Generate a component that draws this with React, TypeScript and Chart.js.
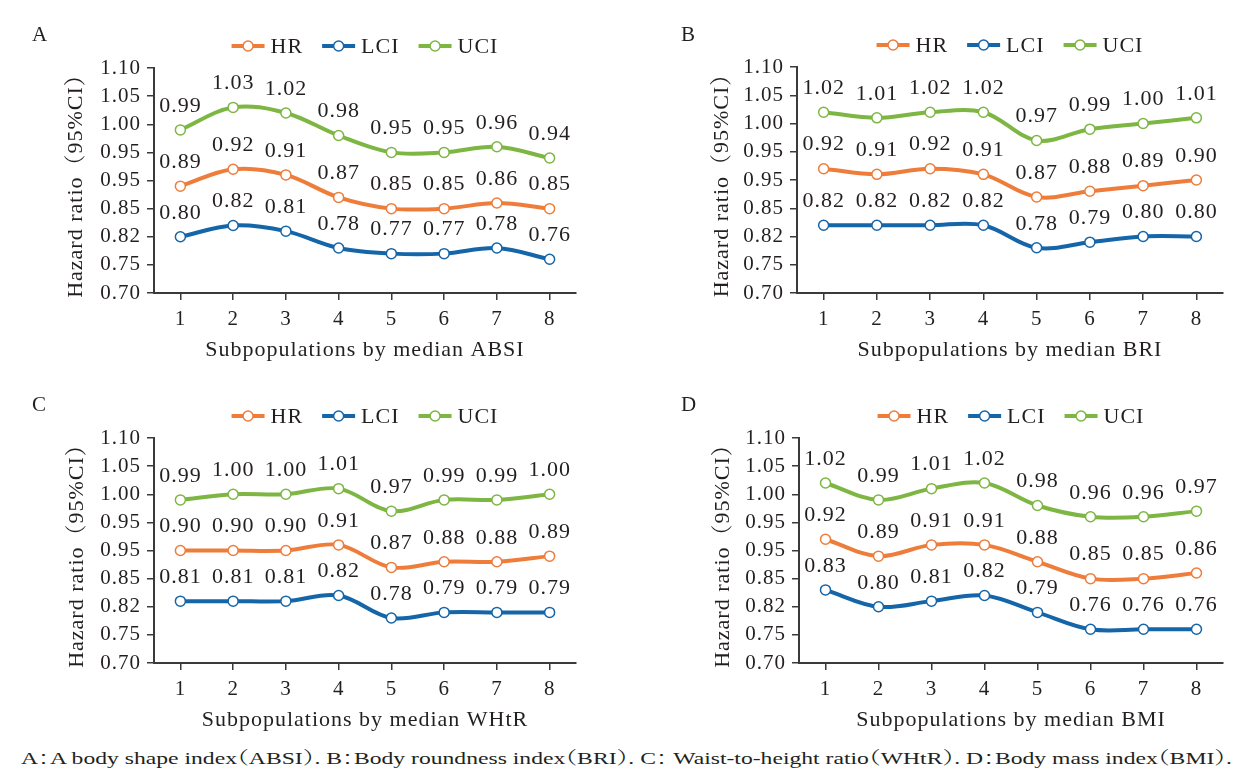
import { useEffect, useLayoutEffect, useRef } from "react";
import { Chart, registerables } from "chart.js";

Chart.register(...registerables);

// x categories and the (odd) y tick labels as printed in the figure
const groups = ["1", "2", "3", "4", "5", "6", "7", "8"];
const yTickLabels = ["0.70", "0.75", "0.82", "0.85", "0.95", "0.95", "1.00", "1.05", "1.10"];
const seriesNames = ["HR", "LCI", "UCI"];

const absiHR = [0.89, 0.92, 0.91, 0.87, 0.85, 0.85, 0.86, 0.85];
const absiLCI = [0.8, 0.82, 0.81, 0.78, 0.77, 0.77, 0.78, 0.76];
const absiUCI = [0.99, 1.03, 1.02, 0.98, 0.95, 0.95, 0.96, 0.94];

const briHR = [0.92, 0.91, 0.92, 0.91, 0.87, 0.88, 0.89, 0.9];
const briLCI = [0.82, 0.82, 0.82, 0.82, 0.78, 0.79, 0.8, 0.8];
const briUCI = [1.02, 1.01, 1.02, 1.02, 0.97, 0.99, 1.0, 1.01];

const whtrHR = [0.9, 0.9, 0.9, 0.91, 0.87, 0.88, 0.88, 0.89];
const whtrLCI = [0.81, 0.81, 0.81, 0.82, 0.78, 0.79, 0.79, 0.79];
const whtrUCI = [0.99, 1.0, 1.0, 1.01, 0.97, 0.99, 0.99, 1.0];

const bmiHR = [0.92, 0.89, 0.91, 0.91, 0.88, 0.85, 0.85, 0.86];
const bmiLCI = [0.83, 0.8, 0.81, 0.82, 0.79, 0.76, 0.76, 0.76];
const bmiUCI = [1.02, 0.99, 1.01, 1.02, 0.98, 0.96, 0.96, 0.97];

const caption =
  "A：A body shape index（ABSI）. B：Body roundness index（BRI）. C： Waist-to-height ratio（WHtR）. D：Body mass index（BMI）.";

const FONT = "'Liberation Serif', 'Noto Serif CJK SC', serif";
const TEXT = "#231f20";
const AXIS = "#3a3a3a";
const COLORS = ["#ee7d3b", "#1565a9", "#7db642"];

const CW = 627;
const CH = 370;

const panels = [
  { letter: "A", xTitle: "Subpopulations by median ABSI", series: [absiHR, absiLCI, absiUCI], left: 0, top: 0, plotLeft: 154, plotRight: 576, plotTop: 68, plotBottom: 293, yTitleX: 76 },
  { letter: "B", xTitle: "Subpopulations by median BRI", series: [briHR, briLCI, briUCI], left: 627, top: 0, plotLeft: 797, plotRight: 1223, plotTop: 67, plotBottom: 293, yTitleX: 722 },
  { letter: "C", xTitle: "Subpopulations by median WHtR", series: [whtrHR, whtrLCI, whtrUCI], left: 0, top: 370, plotLeft: 154, plotRight: 576, plotTop: 438, plotBottom: 663, yTitleX: 77 },
  { letter: "D", xTitle: "Subpopulations by median BMI", series: [bmiHR, bmiLCI, bmiUCI], left: 627, top: 370, plotLeft: 799, plotRight: 1223, plotTop: 438, plotBottom: 663, yTitleX: 723 },
];

const overlay = {
  id: "overlay",
  beforeDraw(chart: any) {
    // the printed figure uses a wide serif, so space the glyphs out a little
    chart.ctx.letterSpacing = "1px";
  },
  afterDatasetsDraw(chart: any) {
    const ctx = chart.ctx;
    const area = chart.chartArea;
    ctx.save();
    ctx.fillStyle = TEXT;
    ctx.font = `22px ${FONT}`;
    ctx.textAlign = "center";
    ctx.textBaseline = "middle";
    chart.data.datasets.forEach((ds: any, i: number) => {
      chart.getDatasetMeta(i).data.forEach((pt: any, j: number) => {
        ctx.fillText(Number(ds.data[j]).toFixed(2), pt.x, pt.y - 24);
      });
    });

    // legend centred over the plot area
    const markW = 33;
    const gapText = 6;
    const gapItem = 19;
    const widths = seriesNames.map((n) => ctx.measureText(n).width);
    const total =
      widths.reduce((a, b) => a + b, 0) + seriesNames.length * (markW + gapText) + gapItem * (seriesNames.length - 1);
    let x = (area.left + area.right) / 2 - total / 2;
    const y = area.top - 22;
    ctx.textAlign = "left";
    seriesNames.forEach((n, i) => {
      ctx.strokeStyle = COLORS[i];
      ctx.lineWidth = 4;
      ctx.beginPath();
      ctx.moveTo(x, y);
      ctx.lineTo(x + markW, y);
      ctx.stroke();
      ctx.beginPath();
      ctx.arc(x + markW / 2, y, 5, 0, Math.PI * 2);
      ctx.fillStyle = "#fff";
      ctx.fill();
      ctx.lineWidth = 1.5;
      ctx.stroke();
      ctx.fillStyle = TEXT;
      ctx.fillText(n, x + markW + gapText, y + 1);
      x += markW + gapText + widths[i] + gapItem;
    });
    ctx.restore();
  },
};

function Panel({ p }: { p: (typeof panels)[number] }) {
  const ref = useRef<HTMLCanvasElement | null>(null);

  useEffect(() => {
    if (!ref.current) return;
    const padLeft = Math.round(p.yTitleX - p.left - 13.2);
    const yWidth = p.plotLeft - p.left - padLeft;
    const xHeight = 70;

    const chart = new Chart(ref.current, {
      type: "line",
      data: {
        labels: groups,
        datasets: p.series.map((s, i) => ({
          label: seriesNames[i],
          data: s,
          borderColor: COLORS[i],
          borderWidth: 4,
          tension: 0.35,
          pointRadius: 5,
          pointBorderWidth: 1.5,
          pointBackgroundColor: "#fff",
          pointBorderColor: COLORS[i],
          fill: false,
        })),
      },
      options: {
        responsive: false,
        animation: false,
        events: [],
        layout: {
          padding: {
            left: padLeft,
            right: p.left + CW - p.plotRight,
            top: p.plotTop - p.top,
            bottom: p.top + CH - p.plotBottom - xHeight,
          },
        },
        plugins: { legend: { display: false }, tooltip: { enabled: false } },
        scales: {
          x: {
            offset: true,
            grid: { offset: false, drawOnChartArea: false, tickLength: 7, color: AXIS, lineWidth: 1.5 },
            border: { display: true, color: AXIS, width: 2 },
            ticks: { color: TEXT, font: { family: FONT, size: 21 }, padding: 7, maxRotation: 0, autoSkip: false },
            title: { display: true, text: p.xTitle, color: TEXT, font: { family: FONT, size: 22 }, padding: 0 },
            afterFit: (s: any) => {
              s.height = xHeight;
            },
          },
          y: {
            min: 0.7,
            max: 1.1,
            grid: { drawOnChartArea: false, tickLength: 7, color: AXIS, lineWidth: 1.5 },
            border: { display: true, color: AXIS, width: 2 },
            ticks: {
              stepSize: 0.05,
              autoSkip: false,
              color: TEXT,
              font: { family: FONT, size: 21 },
              padding: 6,
              callback: (_v: any, i: number) => yTickLabels[i],
            },
            title: { display: true, text: "Hazard ratio（95%CI）", color: TEXT, font: { family: FONT, size: 22 }, padding: 0 },
            afterFit: (s: any) => {
              s.width = yWidth;
            },
          },
        },
      },
      plugins: [overlay],
    });

    return () => chart.destroy();
  }, [p]);

  return (
    <>
      <canvas
        ref={ref}
        width={CW}
        height={CH}
        style={{ position: "absolute", left: p.left, top: p.top, width: CW, height: CH }}
      />
      <div
        style={{
          position: "absolute",
          left: p.letter === "A" || p.letter === "C" ? 32 : 681,
          top: p.top + 20,
          fontFamily: FONT,
          fontSize: 21,
          lineHeight: "28px",
          color: TEXT,
        }}
      >
        {p.letter}
      </div>
    </>
  );
}

function Caption() {
  const ref = useRef<HTMLSpanElement | null>(null);
  useLayoutEffect(() => {
    const el = ref.current;
    if (!el) return;
    const w = el.getBoundingClientRect().width;
    if (w > 0) el.style.transform = `scaleX(${1211 / w})`;
  }, []);
  return (
    <span
      ref={ref}
      style={{
        position: "absolute",
        left: 21,
        top: 745,
        display: "inline-block",
        transformOrigin: "0 0",
        fontFamily: FONT,
        fontSize: 17.5,
        lineHeight: "26px",
        color: TEXT,
        whiteSpace: "nowrap",
        fontFeatureSettings: '"halt"',
      }}
    >
      {caption}
    </span>
  );
}

export default function App() {
  return (
    <div
      style={{
        position: "absolute",
        left: 0,
        top: 0,
        width: 1254,
        height: 781,
        background: "#fff",
        overflow: "hidden",
      }}
    >
      {panels.map((p) => (
        <Panel key={p.letter} p={p} />
      ))}
      <Caption />
    </div>
  );
}
